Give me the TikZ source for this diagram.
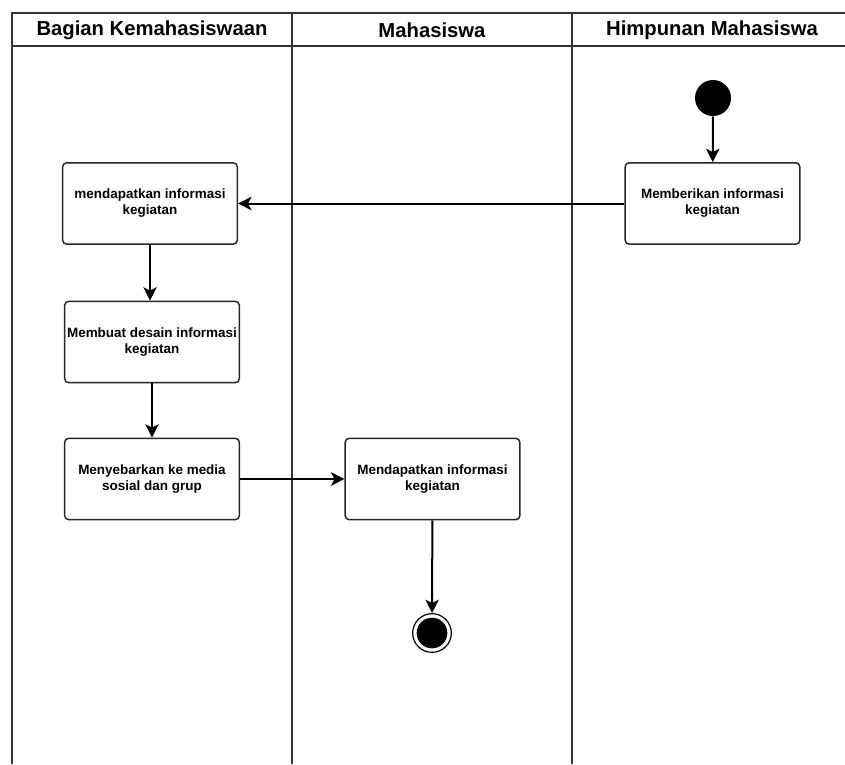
\documentclass[tikz,border=0pt]{standalone}
\usepackage{fontspec}
\setmainfont{Liberation Sans}
\usetikzlibrary{arrows.meta}
\begin{document}
\begin{tikzpicture}[x=0.75pt,y=-0.75pt,
  lane/.style={line width=1.5pt,draw=black!80},
  act/.style={draw=black!85,line width=1.1pt,rounded corners=3pt,fill=white,
    minimum width=131pt,minimum height=61pt,align=center,
    font=\bfseries\fontsize{10.1}{12}\selectfont,inner sep=1pt},
  flow/.style={line width=1.5pt,-{Stealth[length=10pt,width=10pt,inset=2.5pt]}},
  head/.style={font=\bfseries\fontsize{15.2}{18}\selectfont}]
\useasboundingbox (0,0) rectangle (845,764);

% swimlane frame and headers
\draw[lane] (845,13) -- (12,13) -- (12,764);
\draw[lane] (12,46) -- (845,46);
\draw[lane] (292,13) -- (292,764);
\draw[lane] (572,13) -- (572,764);
\node[head] (h1) at (152,30) {Bagian Kemahasiswaan};
\node[head] (h2) at (432,30) {Mahasiswa};
\node[head] (h3) at (712,30) {Himpunan Mahasiswa};

% start / end
\node[circle,fill=black,minimum size=27pt,inner sep=0pt] (start) at (713,98) {};
\node[circle,draw=black,line width=0.9pt,minimum size=29pt,inner sep=0pt] (endo) at (432,633) {};
\node[circle,fill=black,minimum size=23pt,inner sep=0pt] (endi) at (432,633) {};

% activities
\node[act] (a1) at (712.5,203.5) {Memberikan informasi\\kegiatan};
\node[act] (b1) at (150,203.5) {mendapatkan informasi\\kegiatan};
\node[act] (b2) at (152,342) {Membuat desain informasi\\kegiatan};
\node[act] (b3) at (152,479) {Menyebarkan ke media\\sosial dan grup};
\node[act] (m1) at (432.5,479) {Mendapatkan informasi\\kegiatan};

% flows
\draw[flow] (start) -- (a1);
\draw[flow] (a1) -- (b1);
\draw[flow] (b1) -- (b1 |- b2.north);
\draw[flow] (b2) -- (b3);
\draw[flow] (b3) -- (m1);
\draw[flow] (m1) -- (endo);
\end{tikzpicture}
\end{document}
